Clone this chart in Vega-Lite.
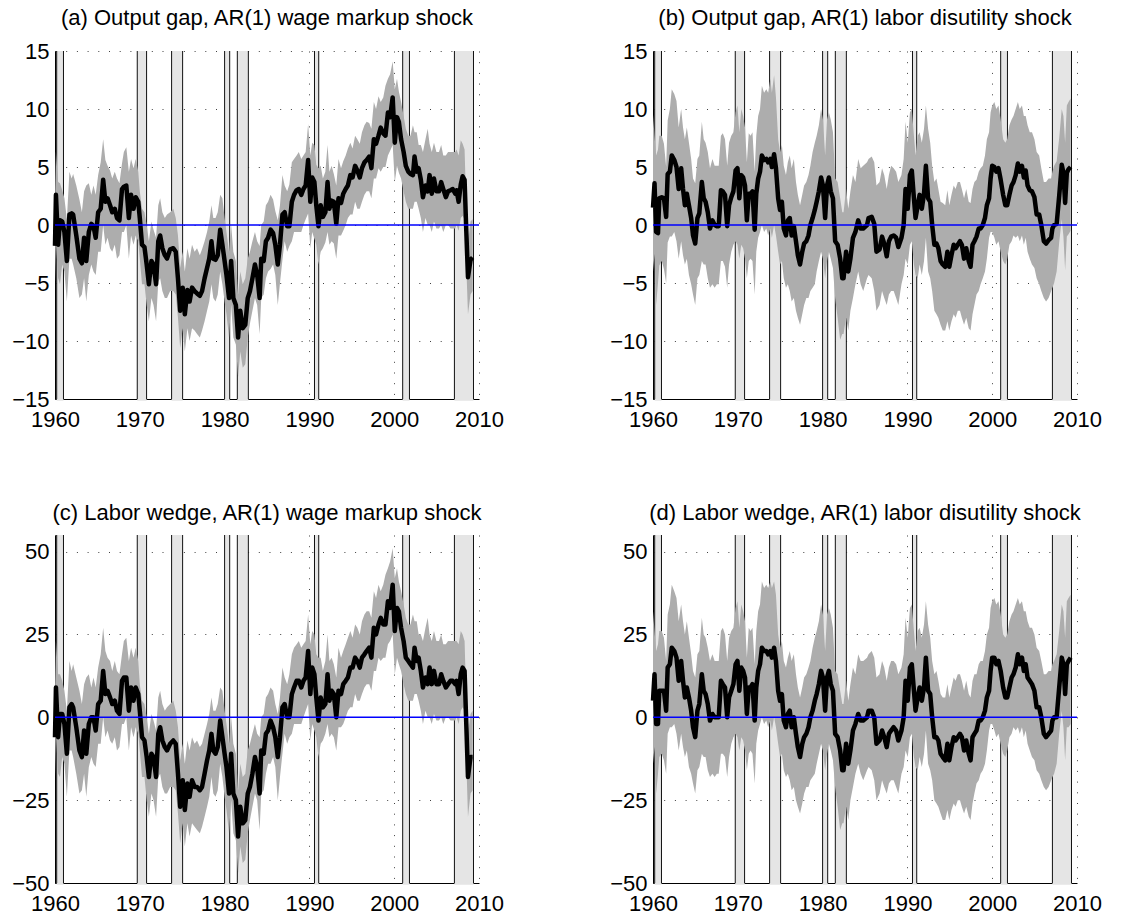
{
"$schema": "https://vega.github.io/schema/vega-lite/v6.json",
"background": "white",
"padding": {"left": 5, "top": 7, "right": 0, "bottom": 0},
"config": {
  "view": {"stroke": null},
  "font": "Liberation Sans",
  "axis": {"labelFont": "Liberation Sans", "labelFontSize": 22, "labelColor": "#000", "domainColor": "#000", "domainWidth": 1, "ticks": false, "tickSize": 0, "grid": true, "gridColor": "#000", "gridOpacity": 0.75, "gridDash": [1, 9.7], "gridWidth": 1, "labelFlush": false, "labelOverlap": false, "labelBound": false},
  "title": {"font": "Liberation Sans", "fontSize": 22, "fontWeight": "normal", "color": "#000", "offset": 10, "baseline": "alphabetic", "frame": "group", "anchor": "middle"}
},
"datasets": {
"R": [{"s":1960.2,"e":1961.0},{"s":1969.7,"e":1970.8},{"s":1973.75,"e":1975.05},{"s":1980.0,"e":1980.6},{"s":1981.5,"e":1982.8},{"s":1990.6,"e":1991.1},{"s":2001.0,"e":2001.8},{"s":2007.1,"e":2009.35}],
"A": [
{"t":1960.00,"m":-1.8,"l":-5.0,"h":2.0,"M":-6,"L":-18,"H":7},
{"t":1960.11,"m":2.6,"l":-1.5,"h":6.3,"M":9,"L":-5,"H":23},
{"t":1960.37,"m":-1.7,"l":-4.6,"h":3.7,"M":-6,"L":-17,"H":13},
{"t":1960.59,"m":0.4,"l":-5.1,"h":3.6,"M":1,"L":-18,"H":13},
{"t":1960.85,"m":0.3,"l":-3.4,"h":3.0,"M":1,"L":-12,"H":11},
{"t":1961.11,"m":-0.6,"l":-4.0,"h":2.3,"M":-2,"L":-14,"H":8},
{"t":1961.40,"m":-3.1,"l":-6.6,"h":0.5,"M":-11,"L":-24,"H":2},
{"t":1961.70,"m":0.9,"l":-2.9,"h":4.6,"M":3,"L":-10,"H":17},
{"t":1961.96,"m":1.0,"l":-2.9,"h":4.0,"M":4,"L":-10,"H":14},
{"t":1962.14,"m":0.9,"l":-3.4,"h":4.4,"M":3,"L":-12,"H":16},
{"t":1962.51,"m":-0.9,"l":-4.6,"h":3.4,"M":-3,"L":-17,"H":12},
{"t":1962.88,"m":-2.9,"l":-6.3,"h":2.2,"M":-10,"L":-23,"H":8},
{"t":1963.17,"m":-3.3,"l":-6.0,"h":1.1,"M":-12,"L":-22,"H":4},
{"t":1963.43,"m":-1.1,"l":-4.6,"h":2.9,"M":-4,"L":-17,"H":10},
{"t":1963.69,"m":-3.1,"l":-6.6,"h":3.4,"M":-11,"L":-24,"H":12},
{"t":1963.99,"m":-0.6,"l":-4.3,"h":3.6,"M":-2,"L":-15,"H":13},
{"t":1964.28,"m":0.1,"l":-3.4,"h":2.6,"M":0,"L":-12,"H":9},
{"t":1964.54,"m":-0.1,"l":-4.0,"h":3.4,"M":0,"L":-14,"H":12},
{"t":1964.80,"m":-1.1,"l":-4.3,"h":2.6,"M":-4,"L":-15,"H":9},
{"t":1965.09,"m":1.1,"l":-2.3,"h":4.3,"M":4,"L":-8,"H":15},
{"t":1965.39,"m":1.4,"l":-2.3,"h":5.4,"M":5,"L":-8,"H":19},
{"t":1965.68,"m":3.9,"l":0.0,"h":7.4,"M":14,"L":0,"H":27},
{"t":1965.94,"m":2.0,"l":-1.7,"h":5.6,"M":7,"L":-6,"H":20},
{"t":1966.20,"m":2.3,"l":-1.1,"h":5.1,"M":8,"L":-4,"H":18},
{"t":1966.49,"m":1.7,"l":-2.0,"h":4.7,"M":6,"L":-7,"H":17},
{"t":1966.75,"m":1.1,"l":-2.3,"h":4.0,"M":4,"L":-8,"H":14},
{"t":1967.05,"m":1.4,"l":-1.7,"h":4.6,"M":5,"L":-6,"H":17},
{"t":1967.31,"m":0.6,"l":-2.9,"h":4.0,"M":2,"L":-10,"H":14},
{"t":1967.60,"m":0.4,"l":-2.6,"h":3.6,"M":1,"L":-9,"H":13},
{"t":1967.90,"m":3.1,"l":-0.6,"h":5.3,"M":11,"L":-2,"H":19},
{"t":1968.12,"m":3.3,"l":-0.6,"h":6.3,"M":12,"L":-2,"H":23},
{"t":1968.41,"m":3.4,"l":0.0,"h":6.7,"M":12,"L":0,"H":24},
{"t":1968.71,"m":0.6,"l":-2.9,"h":4.6,"M":2,"L":-10,"H":17},
{"t":1968.97,"m":2.6,"l":-0.9,"h":5.7,"M":9,"L":-3,"H":21},
{"t":1969.26,"m":1.4,"l":-1.7,"h":4.9,"M":5,"L":-6,"H":18},
{"t":1969.52,"m":2.4,"l":-0.9,"h":5.7,"M":9,"L":-3,"H":21},
{"t":1969.82,"m":2.0,"l":-1.4,"h":4.6,"M":7,"L":-5,"H":17},
{"t":1970.00,"m":0.6,"l":-2.9,"h":2.9,"M":2,"L":-10,"H":10},
{"t":1970.26,"m":-1.7,"l":-5.1,"h":1.4,"M":-6,"L":-18,"H":5},
{"t":1970.55,"m":-1.9,"l":-5.1,"h":1.1,"M":-7,"L":-18,"H":4},
{"t":1970.81,"m":-3.4,"l":-6.9,"h":0.0,"M":-12,"L":-25,"H":0},
{"t":1971.07,"m":-5.1,"l":-8.3,"h":-1.4,"M":-18,"L":-30,"H":-5},
{"t":1971.37,"m":-3.1,"l":-6.3,"h":0.3,"M":-11,"L":-23,"H":1},
{"t":1971.62,"m":-3.4,"l":-6.9,"h":-0.4,"M":-12,"L":-25,"H":-1},
{"t":1971.92,"m":-5.1,"l":-8.3,"h":-1.1,"M":-18,"L":-30,"H":-4},
{"t":1972.18,"m":-1.4,"l":-4.9,"h":1.7,"M":-5,"L":-18,"H":6},
{"t":1972.40,"m":-0.9,"l":-4.6,"h":2.3,"M":-3,"L":-17,"H":8},
{"t":1972.66,"m":-2.0,"l":-5.7,"h":1.1,"M":-7,"L":-21,"H":4},
{"t":1972.95,"m":-2.6,"l":-6.3,"h":0.6,"M":-9,"L":-23,"H":2},
{"t":1973.21,"m":-2.9,"l":-6.3,"h":0.9,"M":-10,"L":-23,"H":3},
{"t":1973.58,"m":-2.1,"l":-5.7,"h":1.1,"M":-8,"L":-21,"H":4},
{"t":1973.95,"m":-2.0,"l":-5.7,"h":1.4,"M":-7,"L":-21,"H":5},
{"t":1974.24,"m":-2.3,"l":-6.0,"h":0.6,"M":-8,"L":-22,"H":2},
{"t":1974.50,"m":-4.6,"l":-8.0,"h":-0.9,"M":-17,"L":-29,"H":-3},
{"t":1974.76,"m":-7.4,"l":-10.6,"h":-3.7,"M":-27,"L":-38,"H":-13},
{"t":1975.06,"m":-5.4,"l":-8.9,"h":-2.3,"M":-19,"L":-32,"H":-8},
{"t":1975.31,"m":-7.7,"l":-10.9,"h":-4.0,"M":-28,"L":-39,"H":-14},
{"t":1975.61,"m":-5.6,"l":-8.9,"h":-2.0,"M":-20,"L":-32,"H":-7},
{"t":1975.87,"m":-6.6,"l":-10.0,"h":-2.9,"M":-24,"L":-36,"H":-10},
{"t":1976.16,"m":-5.4,"l":-8.9,"h":-1.7,"M":-19,"L":-32,"H":-6},
{"t":1976.46,"m":-5.7,"l":-9.1,"h":-2.3,"M":-21,"L":-33,"H":-8},
{"t":1976.75,"m":-5.9,"l":-9.4,"h":-2.0,"M":-21,"L":-34,"H":-7},
{"t":1977.08,"m":-6.1,"l":-9.7,"h":-2.6,"M":-22,"L":-35,"H":-9},
{"t":1977.34,"m":-5.7,"l":-9.1,"h":-2.1,"M":-21,"L":-33,"H":-8},
{"t":1977.64,"m":-4.6,"l":-8.3,"h":-1.4,"M":-17,"L":-30,"H":-5},
{"t":1977.93,"m":-3.7,"l":-7.4,"h":-0.6,"M":-13,"L":-27,"H":-2},
{"t":1978.19,"m":-2.9,"l":-6.6,"h":0.3,"M":-10,"L":-24,"H":1},
{"t":1978.45,"m":-1.4,"l":-5.1,"h":1.7,"M":-5,"L":-18,"H":6},
{"t":1978.67,"m":-2.9,"l":-6.3,"h":0.6,"M":-10,"L":-23,"H":2},
{"t":1978.93,"m":-3.0,"l":-6.6,"h":0.6,"M":-11,"L":-24,"H":2},
{"t":1979.19,"m":-2.6,"l":-6.0,"h":1.1,"M":-9,"L":-22,"H":4},
{"t":1979.48,"m":-0.4,"l":-4.0,"h":2.6,"M":-1,"L":-14,"H":9},
{"t":1979.74,"m":-1.7,"l":-5.1,"h":2.3,"M":-6,"L":-18,"H":8},
{"t":1980.00,"m":-3.1,"l":-6.6,"h":0.6,"M":-11,"L":-24,"H":2},
{"t":1980.22,"m":-4.3,"l":-7.7,"h":-0.6,"M":-15,"L":-28,"H":-2},
{"t":1980.52,"m":-6.3,"l":-9.7,"h":-2.3,"M":-23,"L":-35,"H":-8},
{"t":1980.77,"m":-3.1,"l":-6.9,"h":0.0,"M":-11,"L":-25,"H":0},
{"t":1981.03,"m":-6.3,"l":-9.7,"h":-2.3,"M":-23,"L":-35,"H":-8},
{"t":1981.33,"m":-6.9,"l":-10.3,"h":-3.1,"M":-25,"L":-37,"H":-11},
{"t":1981.59,"m":-9.7,"l":-13.1,"h":-6.0,"M":-36,"L":-47,"H":-22},
{"t":1981.85,"m":-7.4,"l":-10.9,"h":-4.0,"M":-27,"L":-39,"H":-14},
{"t":1982.14,"m":-8.9,"l":-12.3,"h":-5.1,"M":-32,"L":-44,"H":-18},
{"t":1982.44,"m":-8.6,"l":-12.0,"h":-4.6,"M":-31,"L":-43,"H":-17},
{"t":1982.73,"m":-6.3,"l":-9.7,"h":-2.9,"M":-23,"L":-35,"H":-10},
{"t":1982.99,"m":-5.7,"l":-8.5,"h":-2.3,"M":-21,"L":-31,"H":-8},
{"t":1983.28,"m":-4.6,"l":-7.4,"h":-1.4,"M":-17,"L":-27,"H":-5},
{"t":1983.58,"m":-3.4,"l":-6.3,"h":-0.6,"M":-12,"L":-23,"H":-2},
{"t":1983.84,"m":-4.3,"l":-6.9,"h":-1.4,"M":-15,"L":-25,"H":-5},
{"t":1984.13,"m":-6.3,"l":-9.4,"h":-1.8,"M":-23,"L":-34,"H":-6},
{"t":1984.32,"m":-2.9,"l":-6.3,"h":0.0,"M":-10,"L":-23,"H":0},
{"t":1984.61,"m":-3.1,"l":-6.0,"h":0.3,"M":-11,"L":-22,"H":1},
{"t":1984.87,"m":-1.4,"l":-4.6,"h":1.7,"M":-5,"L":-17,"H":6},
{"t":1985.13,"m":-1.1,"l":-4.0,"h":2.0,"M":-4,"L":-14,"H":7},
{"t":1985.42,"m":-0.4,"l":-3.8,"h":2.6,"M":-1,"L":-14,"H":9},
{"t":1985.72,"m":-0.7,"l":-3.4,"h":2.2,"M":-3,"L":-12,"H":8},
{"t":1985.98,"m":-1.7,"l":-4.3,"h":1.2,"M":-6,"L":-15,"H":4},
{"t":1986.27,"m":-3.4,"l":-6.9,"h":0.4,"M":-12,"L":-25,"H":1},
{"t":1986.53,"m":-1.7,"l":-5.0,"h":1.7,"M":-6,"L":-18,"H":6},
{"t":1986.82,"m":0.9,"l":-3.0,"h":4.3,"M":3,"L":-11,"H":15},
{"t":1987.08,"m":1.1,"l":-1.4,"h":3.4,"M":4,"L":-5,"H":12},
{"t":1987.38,"m":-0.1,"l":-2.3,"h":2.9,"M":0,"L":-8,"H":10},
{"t":1987.64,"m":-0.1,"l":-1.8,"h":3.5,"M":0,"L":-6,"H":13},
{"t":1987.93,"m":2.0,"l":-1.4,"h":5.4,"M":7,"L":-5,"H":19},
{"t":1988.19,"m":2.6,"l":-0.6,"h":5.7,"M":9,"L":-2,"H":21},
{"t":1988.49,"m":3.0,"l":-0.6,"h":6.0,"M":11,"L":-2,"H":22},
{"t":1988.75,"m":3.1,"l":-0.6,"h":6.3,"M":11,"L":-2,"H":23},
{"t":1989.04,"m":2.6,"l":-0.6,"h":5.7,"M":9,"L":-2,"H":21},
{"t":1989.30,"m":3.1,"l":0.0,"h":6.0,"M":11,"L":0,"H":22},
{"t":1989.56,"m":3.4,"l":0.5,"h":6.3,"M":12,"L":2,"H":23},
{"t":1989.85,"m":5.6,"l":1.0,"h":8.7,"M":20,"L":4,"H":31},
{"t":1990.11,"m":2.0,"l":-2.0,"h":6.0,"M":7,"L":-7,"H":22},
{"t":1990.33,"m":4.1,"l":-0.6,"h":7.1,"M":15,"L":-2,"H":26},
{"t":1990.59,"m":3.7,"l":-1.2,"h":6.9,"M":13,"L":-4,"H":25},
{"t":1990.81,"m":1.7,"l":-1.7,"h":5.2,"M":6,"L":-6,"H":19},
{"t":1991.07,"m":-0.1,"l":-3.4,"h":4.9,"M":-1,"L":-12,"H":18},
{"t":1991.33,"m":1.7,"l":-2.3,"h":5.1,"M":6,"L":-8,"H":18},
{"t":1991.59,"m":0.7,"l":-2.0,"h":4.0,"M":3,"L":-7,"H":14},
{"t":1991.88,"m":1.1,"l":-1.5,"h":4.6,"M":4,"L":-5,"H":17},
{"t":1992.14,"m":3.7,"l":-0.6,"h":6.9,"M":13,"L":-2,"H":25},
{"t":1992.36,"m":1.4,"l":-1.7,"h":4.6,"M":5,"L":-6,"H":17},
{"t":1992.62,"m":2.1,"l":-1.4,"h":5.1,"M":8,"L":-5,"H":18},
{"t":1992.88,"m":2.0,"l":-1.6,"h":4.4,"M":7,"L":-6,"H":16},
{"t":1993.17,"m":0.1,"l":-2.9,"h":3.4,"M":0,"L":-10,"H":12},
{"t":1993.43,"m":2.3,"l":-0.9,"h":5.7,"M":8,"L":-3,"H":21},
{"t":1993.73,"m":1.9,"l":-0.9,"h":4.9,"M":7,"L":-3,"H":18},
{"t":1993.99,"m":2.7,"l":-0.5,"h":5.5,"M":10,"L":-2,"H":20},
{"t":1994.28,"m":3.1,"l":0.0,"h":6.0,"M":11,"L":0,"H":22},
{"t":1994.54,"m":3.4,"l":0.6,"h":6.6,"M":12,"L":2,"H":24},
{"t":1994.83,"m":4.3,"l":0.9,"h":7.1,"M":15,"L":3,"H":26},
{"t":1995.09,"m":4.1,"l":0.9,"h":6.6,"M":15,"L":3,"H":24},
{"t":1995.39,"m":5.1,"l":2.0,"h":7.7,"M":18,"L":7,"H":28},
{"t":1995.65,"m":4.7,"l":1.4,"h":7.4,"M":17,"L":5,"H":27},
{"t":1995.94,"m":4.1,"l":1.4,"h":7.0,"M":15,"L":5,"H":25},
{"t":1996.20,"m":4.9,"l":2.0,"h":8.0,"M":18,"L":7,"H":29},
{"t":1996.49,"m":5.4,"l":2.6,"h":8.6,"M":19,"L":9,"H":31},
{"t":1996.75,"m":5.6,"l":2.9,"h":8.9,"M":20,"L":10,"H":32},
{"t":1997.05,"m":5.9,"l":2.9,"h":8.8,"M":21,"L":10,"H":32},
{"t":1997.31,"m":4.9,"l":2.3,"h":8.3,"M":18,"L":8,"H":30},
{"t":1997.60,"m":7.4,"l":4.0,"h":10.6,"M":27,"L":14,"H":38},
{"t":1997.86,"m":7.0,"l":4.0,"h":10.0,"M":25,"L":14,"H":36},
{"t":1998.15,"m":7.7,"l":4.9,"h":11.1,"M":28,"L":18,"H":40},
{"t":1998.41,"m":8.4,"l":4.6,"h":10.6,"M":30,"L":17,"H":38},
{"t":1998.71,"m":7.9,"l":5.0,"h":11.0,"M":28,"L":18,"H":40},
{"t":1998.97,"m":7.7,"l":5.0,"h":12.0,"M":28,"L":18,"H":43},
{"t":1999.26,"m":9.7,"l":6.0,"h":12.6,"M":35,"L":22,"H":45},
{"t":1999.52,"m":9.3,"l":6.4,"h":13.0,"M":33,"L":23,"H":47},
{"t":1999.82,"m":11.0,"l":6.9,"h":14.1,"M":40,"L":25,"H":51},
{"t":2000.07,"m":7.1,"l":3.7,"h":11.7,"M":26,"L":13,"H":42},
{"t":2000.33,"m":9.3,"l":5.1,"h":12.6,"M":33,"L":18,"H":45},
{"t":2000.55,"m":8.9,"l":4.5,"h":11.5,"M":32,"L":16,"H":41},
{"t":2000.81,"m":7.4,"l":4.0,"h":10.6,"M":27,"L":14,"H":38},
{"t":2001.11,"m":6.3,"l":2.9,"h":9.4,"M":23,"L":10,"H":34},
{"t":2001.37,"m":5.1,"l":2.0,"h":8.3,"M":18,"L":7,"H":30},
{"t":2001.66,"m":4.6,"l":1.4,"h":7.7,"M":17,"L":5,"H":28},
{"t":2001.92,"m":4.4,"l":1.4,"h":7.7,"M":16,"L":5,"H":28},
{"t":2002.21,"m":4.3,"l":1.4,"h":8.6,"M":15,"L":5,"H":31},
{"t":2002.40,"m":5.9,"l":2.0,"h":8.0,"M":21,"L":7,"H":29},
{"t":2002.66,"m":4.6,"l":2.0,"h":8.0,"M":17,"L":7,"H":29},
{"t":2002.88,"m":4.9,"l":1.4,"h":6.9,"M":18,"L":5,"H":25},
{"t":2003.14,"m":3.9,"l":0.6,"h":6.9,"M":14,"L":2,"H":25},
{"t":2003.39,"m":2.4,"l":-0.6,"h":6.3,"M":9,"L":-2,"H":23},
{"t":2003.69,"m":3.4,"l":0.6,"h":7.4,"M":12,"L":2,"H":27},
{"t":2003.95,"m":2.9,"l":0.0,"h":8.3,"M":10,"L":0,"H":30},
{"t":2004.17,"m":4.3,"l":0.0,"h":7.0,"M":15,"L":0,"H":25},
{"t":2004.43,"m":2.7,"l":-0.6,"h":6.3,"M":10,"L":-2,"H":23},
{"t":2004.69,"m":4.0,"l":0.3,"h":7.1,"M":14,"L":1,"H":26},
{"t":2004.98,"m":2.9,"l":-0.3,"h":6.3,"M":10,"L":-1,"H":23},
{"t":2005.28,"m":2.9,"l":-0.3,"h":6.3,"M":10,"L":-1,"H":23},
{"t":2005.54,"m":3.7,"l":0.0,"h":6.9,"M":13,"L":0,"H":25},
{"t":2005.79,"m":3.1,"l":-0.6,"h":6.0,"M":11,"L":-2,"H":22},
{"t":2006.09,"m":2.4,"l":0.0,"h":6.0,"M":9,"L":0,"H":22},
{"t":2006.35,"m":2.9,"l":0.0,"h":6.3,"M":10,"L":0,"H":23},
{"t":2006.64,"m":3.0,"l":-0.3,"h":6.3,"M":11,"L":-1,"H":23},
{"t":2006.90,"m":3.1,"l":-0.3,"h":6.3,"M":11,"L":-1,"H":23},
{"t":2007.20,"m":2.7,"l":-0.3,"h":6.3,"M":10,"L":-1,"H":23},
{"t":2007.35,"m":3.0,"l":0.0,"h":6.5,"M":11,"L":0,"H":23},
{"t":2007.60,"m":2.0,"l":-0.5,"h":6.0,"M":7,"L":-2,"H":22},
{"t":2007.85,"m":3.5,"l":0.6,"h":7.3,"M":13,"L":2,"H":26},
{"t":2008.07,"m":4.2,"l":0.8,"h":7.0,"M":15,"L":3,"H":25},
{"t":2008.30,"m":3.9,"l":0.5,"h":6.5,"M":14,"L":2,"H":23},
{"t":2008.50,"m":-0.5,"l":-3.5,"h":1.5,"M":-2,"L":-13,"H":5},
{"t":2008.70,"m":-4.5,"l":-7.7,"h":-1.5,"M":-18,"L":-30,"H":-5},
{"t":2009.00,"m":-3.0,"l":-6.0,"h":0.3,"M":-12,"L":-23,"H":1},
{"t":2009.25,"m":-2.8,"l":-5.7,"h":0.5,"M":-12,"L":-22,"H":2}
],
"B": [
{"t":1960.00,"m":1.5,"l":-4.0,"h":9.5,"M":5,"L":-14,"H":32},
{"t":1960.18,"m":3.6,"l":-2.5,"h":7.7,"M":13,"L":-9,"H":26},
{"t":1960.37,"m":-0.6,"l":-6.9,"h":6.0,"M":-2,"L":-23,"H":20},
{"t":1960.59,"m":-0.7,"l":-5.0,"h":6.5,"M":-2,"L":-17,"H":22},
{"t":1960.74,"m":2.3,"l":-3.5,"h":7.7,"M":8,"L":-12,"H":26},
{"t":1961.03,"m":2.4,"l":-3.1,"h":7.7,"M":8,"L":-11,"H":26},
{"t":1961.29,"m":2.3,"l":-3.8,"h":7.0,"M":8,"L":-13,"H":24},
{"t":1961.55,"m":0.7,"l":-5.0,"h":5.0,"M":2,"L":-17,"H":17},
{"t":1961.73,"m":4.4,"l":-1.5,"h":9.0,"M":15,"L":-5,"H":31},
{"t":1961.99,"m":4.6,"l":-1.0,"h":10.0,"M":16,"L":-3,"H":34},
{"t":1962.21,"m":6.0,"l":-1.0,"h":11.7,"M":21,"L":-3,"H":40},
{"t":1962.51,"m":5.6,"l":-0.6,"h":11.3,"M":20,"L":-2,"H":38},
{"t":1962.77,"m":5.0,"l":-1.4,"h":10.7,"M":18,"L":-5,"H":36},
{"t":1963.03,"m":3.1,"l":-2.9,"h":8.4,"M":11,"L":-10,"H":29},
{"t":1963.32,"m":4.9,"l":-1.4,"h":10.0,"M":17,"L":-5,"H":34},
{"t":1963.54,"m":3.1,"l":-2.6,"h":8.4,"M":11,"L":-9,"H":29},
{"t":1963.76,"m":1.7,"l":-3.4,"h":7.4,"M":6,"L":-12,"H":25},
{"t":1963.99,"m":2.7,"l":-2.9,"h":8.4,"M":9,"L":-10,"H":29},
{"t":1964.24,"m":1.7,"l":-4.3,"h":7.1,"M":6,"L":-15,"H":24},
{"t":1964.50,"m":0.6,"l":-5.1,"h":5.7,"M":2,"L":-17,"H":19},
{"t":1964.72,"m":-0.9,"l":-6.0,"h":4.0,"M":-3,"L":-20,"H":14},
{"t":1964.98,"m":-1.6,"l":-6.9,"h":3.6,"M":-6,"L":-23,"H":12},
{"t":1965.24,"m":0.6,"l":-4.6,"h":5.7,"M":2,"L":-16,"H":19},
{"t":1965.46,"m":1.0,"l":-4.3,"h":6.0,"M":4,"L":-15,"H":20},
{"t":1965.76,"m":3.7,"l":-3.1,"h":8.9,"M":13,"L":-11,"H":30},
{"t":1965.98,"m":2.3,"l":-3.4,"h":7.4,"M":8,"L":-12,"H":25},
{"t":1966.20,"m":2.0,"l":-3.4,"h":7.1,"M":7,"L":-12,"H":24},
{"t":1966.46,"m":1.1,"l":-4.6,"h":6.3,"M":4,"L":-16,"H":21},
{"t":1966.72,"m":-0.3,"l":-5.4,"h":4.9,"M":-1,"L":-18,"H":17},
{"t":1967.01,"m":0.4,"l":-5.1,"h":5.7,"M":1,"L":-17,"H":19},
{"t":1967.27,"m":0.0,"l":-5.4,"h":5.1,"M":0,"L":-18,"H":17},
{"t":1967.53,"m":-0.1,"l":-5.1,"h":5.1,"M":0,"L":-17,"H":17},
{"t":1967.75,"m":-0.1,"l":-5.1,"h":5.1,"M":0,"L":-17,"H":17},
{"t":1968.01,"m":3.0,"l":-3.1,"h":7.7,"M":11,"L":-11,"H":26},
{"t":1968.23,"m":2.9,"l":-3.1,"h":7.9,"M":10,"L":-11,"H":27},
{"t":1968.49,"m":2.6,"l":-3.6,"h":7.4,"M":9,"L":-12,"H":25},
{"t":1968.75,"m":-0.1,"l":-5.4,"h":5.1,"M":0,"L":-18,"H":17},
{"t":1968.97,"m":1.7,"l":-3.4,"h":7.1,"M":6,"L":-12,"H":24},
{"t":1969.23,"m":2.4,"l":-2.3,"h":7.7,"M":8,"L":-8,"H":26},
{"t":1969.48,"m":2.9,"l":-1.7,"h":8.0,"M":10,"L":-6,"H":27},
{"t":1969.74,"m":4.7,"l":-1.4,"h":9.7,"M":16,"L":-5,"H":33},
{"t":1969.96,"m":4.9,"l":-1.7,"h":10.3,"M":17,"L":-6,"H":35},
{"t":1970.18,"m":2.3,"l":-2.9,"h":8.0,"M":8,"L":-10,"H":27},
{"t":1970.41,"m":4.3,"l":-1.7,"h":10.0,"M":15,"L":-6,"H":34},
{"t":1970.63,"m":4.1,"l":-2.0,"h":9.4,"M":14,"L":-7,"H":32},
{"t":1970.85,"m":3.4,"l":-2.9,"h":8.4,"M":12,"L":-10,"H":29},
{"t":1971.07,"m":0.4,"l":-4.6,"h":5.4,"M":1,"L":-16,"H":18},
{"t":1971.29,"m":2.7,"l":-3.1,"h":7.9,"M":9,"L":-11,"H":27},
{"t":1971.51,"m":2.7,"l":-2.9,"h":7.7,"M":9,"L":-10,"H":26},
{"t":1971.73,"m":2.9,"l":-3.1,"h":8.0,"M":10,"L":-11,"H":27},
{"t":1971.99,"m":-0.4,"l":-6.0,"h":4.6,"M":-1,"L":-20,"H":16},
{"t":1972.18,"m":2.7,"l":-2.3,"h":7.7,"M":9,"L":-8,"H":26},
{"t":1972.40,"m":4.0,"l":-1.1,"h":9.4,"M":14,"L":-4,"H":32},
{"t":1972.62,"m":4.6,"l":-0.6,"h":10.0,"M":16,"L":-2,"H":34},
{"t":1972.84,"m":6.0,"l":0.0,"h":12.0,"M":21,"L":0,"H":41},
{"t":1973.10,"m":5.6,"l":-0.6,"h":11.4,"M":20,"L":-2,"H":39},
{"t":1973.36,"m":5.7,"l":-0.3,"h":11.7,"M":20,"L":-1,"H":40},
{"t":1973.58,"m":5.4,"l":-0.9,"h":11.4,"M":19,"L":-3,"H":39},
{"t":1973.84,"m":5.7,"l":-0.3,"h":12.6,"M":20,"L":-1,"H":41},
{"t":1974.02,"m":5.0,"l":-1.1,"h":11.4,"M":18,"L":-4,"H":39},
{"t":1974.28,"m":6.1,"l":0.0,"h":12.9,"M":21,"L":0,"H":41},
{"t":1974.50,"m":4.9,"l":-0.9,"h":11.0,"M":17,"L":-3,"H":37},
{"t":1974.76,"m":2.3,"l":-2.3,"h":7.4,"M":8,"L":-8,"H":25},
{"t":1974.98,"m":1.3,"l":-3.4,"h":6.3,"M":5,"L":-12,"H":21},
{"t":1975.20,"m":2.0,"l":-3.1,"h":6.9,"M":7,"L":-11,"H":23},
{"t":1975.42,"m":-0.3,"l":-4.6,"h":5.1,"M":-1,"L":-16,"H":17},
{"t":1975.68,"m":-0.9,"l":-5.4,"h":4.3,"M":-3,"L":-18,"H":15},
{"t":1975.90,"m":0.4,"l":-5.1,"h":5.4,"M":1,"L":-17,"H":18},
{"t":1976.13,"m":0.6,"l":-5.7,"h":6.0,"M":2,"L":-19,"H":20},
{"t":1976.35,"m":-0.9,"l":-6.6,"h":4.9,"M":-3,"L":-22,"H":17},
{"t":1976.61,"m":-0.1,"l":-6.3,"h":5.7,"M":0,"L":-21,"H":19},
{"t":1976.86,"m":-1.4,"l":-7.4,"h":3.7,"M":-5,"L":-25,"H":13},
{"t":1977.08,"m":-2.6,"l":-8.0,"h":2.6,"M":-9,"L":-27,"H":9},
{"t":1977.34,"m":-3.4,"l":-8.6,"h":1.7,"M":-12,"L":-29,"H":6},
{"t":1977.60,"m":-2.3,"l":-7.7,"h":2.6,"M":-8,"L":-26,"H":9},
{"t":1977.82,"m":-1.6,"l":-6.9,"h":3.4,"M":-6,"L":-23,"H":12},
{"t":1978.08,"m":-1.4,"l":-6.3,"h":3.7,"M":-5,"L":-21,"H":13},
{"t":1978.34,"m":-0.9,"l":-6.3,"h":4.3,"M":-3,"L":-21,"H":15},
{"t":1978.56,"m":0.0,"l":-5.7,"h":5.1,"M":0,"L":-19,"H":17},
{"t":1978.82,"m":0.6,"l":-5.4,"h":6.3,"M":2,"L":-18,"H":21},
{"t":1979.08,"m":1.3,"l":-5.1,"h":7.1,"M":5,"L":-17,"H":24},
{"t":1979.30,"m":2.0,"l":-4.0,"h":7.7,"M":7,"L":-14,"H":26},
{"t":1979.56,"m":2.9,"l":-3.1,"h":8.6,"M":10,"L":-11,"H":29},
{"t":1979.82,"m":4.1,"l":-2.3,"h":10.0,"M":14,"L":-8,"H":34},
{"t":1980.04,"m":3.4,"l":-2.9,"h":9.1,"M":12,"L":-10,"H":31},
{"t":1980.30,"m":0.6,"l":-4.6,"h":6.0,"M":2,"L":-16,"H":20},
{"t":1980.52,"m":3.4,"l":-3.1,"h":9.1,"M":12,"L":-11,"H":31},
{"t":1980.74,"m":4.1,"l":-2.3,"h":9.7,"M":14,"L":-8,"H":33},
{"t":1980.96,"m":2.9,"l":-2.9,"h":9.1,"M":10,"L":-10,"H":31},
{"t":1981.22,"m":2.3,"l":-3.7,"h":8.0,"M":8,"L":-13,"H":27},
{"t":1981.48,"m":-1.4,"l":-6.3,"h":4.0,"M":-5,"L":-21,"H":14},
{"t":1981.77,"m":-1.7,"l":-8.0,"h":3.7,"M":-6,"L":-27,"H":13},
{"t":1982.07,"m":-2.9,"l":-9.9,"h":2.3,"M":-10,"L":-34,"H":8},
{"t":1982.32,"m":-4.6,"l":-9.4,"h":1.1,"M":-16,"L":-32,"H":4},
{"t":1982.47,"m":-4.6,"l":-9.4,"h":1.1,"M":-16,"L":-32,"H":4},
{"t":1982.77,"m":-2.3,"l":-8.0,"h":3.1,"M":-8,"L":-27,"H":11},
{"t":1983.03,"m":-4.0,"l":-9.1,"h":1.4,"M":-14,"L":-31,"H":5},
{"t":1983.28,"m":-2.9,"l":-7.4,"h":2.9,"M":-10,"L":-25,"H":10},
{"t":1983.58,"m":-1.1,"l":-6.3,"h":4.3,"M":-4,"L":-21,"H":15},
{"t":1983.87,"m":-0.6,"l":-5.1,"h":3.7,"M":-2,"L":-17,"H":13},
{"t":1984.20,"m":0.4,"l":-4.0,"h":5.7,"M":1,"L":-14,"H":19},
{"t":1984.49,"m":-0.3,"l":-5.1,"h":4.9,"M":-1,"L":-17,"H":17},
{"t":1984.79,"m":-0.3,"l":-5.7,"h":5.1,"M":-1,"L":-19,"H":17},
{"t":1985.24,"m":0.0,"l":-4.6,"h":5.4,"M":0,"L":-16,"H":18},
{"t":1985.42,"m":0.6,"l":-4.3,"h":5.7,"M":2,"L":-15,"H":19},
{"t":1985.79,"m":0.7,"l":-4.6,"h":5.9,"M":2,"L":-16,"H":20},
{"t":1986.09,"m":0.1,"l":-5.7,"h":5.4,"M":0,"L":-19,"H":18},
{"t":1986.35,"m":-2.3,"l":-7.4,"h":3.4,"M":-8,"L":-25,"H":12},
{"t":1986.72,"m":-2.1,"l":-6.9,"h":3.7,"M":-7,"L":-23,"H":13},
{"t":1987.01,"m":-1.0,"l":-5.7,"h":4.9,"M":-4,"L":-19,"H":17},
{"t":1987.27,"m":-1.6,"l":-6.3,"h":4.3,"M":-6,"L":-21,"H":15},
{"t":1987.56,"m":-2.7,"l":-6.9,"h":3.1,"M":-9,"L":-23,"H":11},
{"t":1987.82,"m":-1.4,"l":-6.0,"h":4.3,"M":-5,"L":-20,"H":15},
{"t":1988.08,"m":-1.0,"l":-5.7,"h":5.1,"M":-4,"L":-19,"H":17},
{"t":1988.38,"m":-0.9,"l":-5.7,"h":4.9,"M":-3,"L":-19,"H":17},
{"t":1988.67,"m":-1.1,"l":-6.3,"h":4.6,"M":-4,"L":-21,"H":16},
{"t":1988.93,"m":-1.9,"l":-6.9,"h":3.7,"M":-7,"L":-23,"H":13},
{"t":1989.30,"m":-1.1,"l":-5.1,"h":4.3,"M":-4,"L":-17,"H":15},
{"t":1989.56,"m":0.0,"l":-4.3,"h":5.7,"M":0,"L":-15,"H":19},
{"t":1989.78,"m":3.1,"l":-2.9,"h":8.9,"M":11,"L":-10,"H":30},
{"t":1990.04,"m":1.4,"l":-3.4,"h":7.1,"M":5,"L":-12,"H":24},
{"t":1990.30,"m":4.3,"l":-1.7,"h":9.7,"M":15,"L":-6,"H":33},
{"t":1990.52,"m":4.7,"l":-1.4,"h":10.0,"M":16,"L":-5,"H":34},
{"t":1990.77,"m":2.3,"l":-3.4,"h":7.7,"M":8,"L":-12,"H":26},
{"t":1990.96,"m":0.6,"l":-4.3,"h":6.0,"M":2,"L":-15,"H":20},
{"t":1991.22,"m":1.7,"l":-4.6,"h":7.7,"M":6,"L":-16,"H":26},
{"t":1991.44,"m":2.6,"l":-3.4,"h":8.0,"M":9,"L":-12,"H":27},
{"t":1991.70,"m":1.4,"l":-4.3,"h":7.1,"M":5,"L":-15,"H":24},
{"t":1991.96,"m":2.7,"l":-3.1,"h":8.3,"M":9,"L":-11,"H":28},
{"t":1992.18,"m":5.1,"l":-1.1,"h":10.3,"M":18,"L":-4,"H":35},
{"t":1992.44,"m":2.3,"l":-4.0,"h":8.3,"M":8,"L":-14,"H":28},
{"t":1992.69,"m":2.0,"l":-4.6,"h":7.1,"M":7,"L":-16,"H":24},
{"t":1992.92,"m":0.0,"l":-5.7,"h":5.1,"M":0,"L":-19,"H":17},
{"t":1993.18,"m":-1.7,"l":-7.4,"h":3.7,"M":-6,"L":-25,"H":13},
{"t":1993.43,"m":-1.6,"l":-7.7,"h":4.0,"M":-6,"L":-26,"H":14},
{"t":1993.65,"m":-2.0,"l":-8.0,"h":3.1,"M":-7,"L":-27,"H":11},
{"t":1993.91,"m":-3.1,"l":-8.6,"h":2.0,"M":-11,"L":-29,"H":7},
{"t":1994.17,"m":-3.4,"l":-9.1,"h":1.9,"M":-12,"L":-31,"H":6},
{"t":1994.46,"m":-3.6,"l":-9.1,"h":1.7,"M":-13,"L":-31,"H":6},
{"t":1994.72,"m":-2.3,"l":-8.3,"h":3.0,"M":-8,"L":-28,"H":10},
{"t":1994.94,"m":-3.6,"l":-9.1,"h":1.7,"M":-13,"L":-31,"H":6},
{"t":1995.20,"m":-2.6,"l":-8.3,"h":2.6,"M":-9,"L":-28,"H":9},
{"t":1995.46,"m":-1.7,"l":-7.7,"h":3.4,"M":-6,"L":-26,"H":12},
{"t":1995.68,"m":-2.0,"l":-8.0,"h":3.1,"M":-7,"L":-27,"H":11},
{"t":1995.94,"m":-1.7,"l":-7.4,"h":3.7,"M":-6,"L":-25,"H":13},
{"t":1996.20,"m":-1.4,"l":-7.4,"h":3.7,"M":-5,"L":-25,"H":13},
{"t":1996.42,"m":-1.7,"l":-8.0,"h":3.1,"M":-6,"L":-27,"H":11},
{"t":1996.68,"m":-2.9,"l":-8.6,"h":2.3,"M":-10,"L":-29,"H":8},
{"t":1996.94,"m":-2.0,"l":-8.0,"h":3.1,"M":-7,"L":-27,"H":11},
{"t":1997.23,"m":-3.1,"l":-8.9,"h":2.0,"M":-11,"L":-30,"H":7},
{"t":1997.45,"m":-3.6,"l":-9.1,"h":1.9,"M":-13,"L":-31,"H":6},
{"t":1997.68,"m":-1.7,"l":-7.7,"h":3.1,"M":-6,"L":-26,"H":11},
{"t":1997.90,"m":-1.4,"l":-6.9,"h":3.7,"M":-5,"L":-23,"H":13},
{"t":1998.15,"m":-1.0,"l":-6.0,"h":3.9,"M":-4,"L":-20,"H":13},
{"t":1998.41,"m":-0.3,"l":-5.7,"h":4.6,"M":-1,"L":-19,"H":16},
{"t":1998.63,"m":-0.3,"l":-5.1,"h":4.9,"M":-1,"L":-17,"H":17},
{"t":1998.89,"m":0.0,"l":-4.6,"h":5.1,"M":0,"L":-16,"H":17},
{"t":1999.15,"m":0.6,"l":-4.0,"h":6.0,"M":2,"L":-14,"H":20},
{"t":1999.37,"m":1.7,"l":-2.9,"h":7.4,"M":6,"L":-10,"H":25},
{"t":1999.63,"m":2.3,"l":-1.1,"h":8.0,"M":8,"L":-4,"H":27},
{"t":1999.81,"m":4.0,"l":-0.6,"h":9.7,"M":14,"L":-2,"H":33},
{"t":2000.00,"m":5.1,"l":-0.6,"h":10.3,"M":18,"L":-2,"H":35},
{"t":2000.26,"m":5.0,"l":-1.1,"h":10.6,"M":18,"L":-4,"H":36},
{"t":2000.48,"m":4.6,"l":-1.7,"h":10.0,"M":16,"L":-6,"H":34},
{"t":2000.74,"m":4.9,"l":-1.4,"h":10.3,"M":17,"L":-5,"H":35},
{"t":2001.00,"m":3.9,"l":-2.3,"h":9.1,"M":14,"L":-8,"H":31},
{"t":2001.29,"m":2.6,"l":-3.1,"h":7.4,"M":9,"L":-11,"H":25},
{"t":2001.55,"m":1.7,"l":-3.4,"h":7.1,"M":6,"L":-12,"H":24},
{"t":2001.77,"m":1.7,"l":-2.9,"h":7.4,"M":6,"L":-10,"H":25},
{"t":2002.03,"m":2.6,"l":-1.7,"h":8.6,"M":9,"L":-6,"H":29},
{"t":2002.29,"m":3.4,"l":-1.4,"h":9.1,"M":12,"L":-5,"H":31},
{"t":2002.51,"m":3.7,"l":-0.9,"h":9.4,"M":13,"L":-3,"H":32},
{"t":2002.77,"m":4.3,"l":-1.1,"h":10.0,"M":15,"L":-4,"H":34},
{"t":2003.03,"m":5.3,"l":-0.9,"h":10.6,"M":19,"L":-3,"H":36},
{"t":2003.25,"m":4.6,"l":-1.4,"h":10.0,"M":16,"L":-5,"H":34},
{"t":2003.51,"m":5.1,"l":-0.9,"h":10.3,"M":18,"L":-3,"H":35},
{"t":2003.73,"m":4.1,"l":-1.7,"h":9.4,"M":14,"L":-6,"H":32},
{"t":2003.95,"m":4.7,"l":-1.1,"h":9.4,"M":16,"L":-4,"H":32},
{"t":2004.17,"m":3.4,"l":-2.3,"h":8.6,"M":12,"L":-8,"H":29},
{"t":2004.43,"m":3.0,"l":-2.9,"h":8.0,"M":11,"L":-10,"H":27},
{"t":2004.69,"m":2.9,"l":-3.4,"h":8.0,"M":10,"L":-12,"H":27},
{"t":2004.98,"m":2.4,"l":-3.7,"h":7.4,"M":8,"L":-13,"H":25},
{"t":2005.24,"m":0.9,"l":-4.6,"h":6.3,"M":3,"L":-16,"H":21},
{"t":2005.54,"m":0.9,"l":-5.1,"h":6.0,"M":3,"L":-17,"H":20},
{"t":2005.79,"m":0.0,"l":-5.7,"h":4.9,"M":0,"L":-19,"H":17},
{"t":2006.09,"m":-1.4,"l":-6.3,"h":3.7,"M":-5,"L":-21,"H":13},
{"t":2006.35,"m":-1.6,"l":-6.6,"h":3.7,"M":-6,"L":-22,"H":13},
{"t":2006.65,"m":-1.3,"l":-6.3,"h":4.0,"M":-5,"L":-21,"H":14},
{"t":2006.95,"m":-1.1,"l":-5.7,"h":4.0,"M":-4,"L":-19,"H":14},
{"t":2007.10,"m":-0.3,"l":-5.4,"h":4.6,"M":-1,"L":-18,"H":16},
{"t":2007.30,"m":0.0,"l":-5.0,"h":5.1,"M":0,"L":-17,"H":17},
{"t":2007.60,"m":0.1,"l":-4.0,"h":5.5,"M":0,"L":-14,"H":19},
{"t":2007.90,"m":2.5,"l":-1.5,"h":7.5,"M":9,"L":-5,"H":26},
{"t":2008.20,"m":5.2,"l":0.5,"h":10.0,"M":18,"L":2,"H":34},
{"t":2008.40,"m":4.5,"l":-1.0,"h":9.4,"M":16,"L":-3,"H":32},
{"t":2008.60,"m":1.9,"l":-3.9,"h":7.1,"M":7,"L":-13,"H":24},
{"t":2008.80,"m":4.5,"l":-1.0,"h":10.3,"M":16,"L":-3,"H":35},
{"t":2009.00,"m":4.8,"l":-0.8,"h":10.6,"M":17,"L":-3,"H":36},
{"t":2009.25,"m":5.0,"l":-0.5,"h":10.9,"M":18,"L":-2,"H":37}
]
},
"columns": 2,
"bounds": "flush",
"spacing": {"row": 136, "column": 174},
"concat": [
{
 "width": 424, "height": 348,
 "title": {"text": "(a) Output gap, AR(1) wage markup shock"},
 "layer": [
  {"data": {"name": "R"}, "mark": {"type": "rect", "color": "#e5e5e5"},
   "encoding": {
    "x": {"field": "s", "type": "quantitative", "title": null, "scale": {"domain": [1960, 2010], "nice": false, "zero": false}, "axis": {"values": [1960, 1970, 1980, 1990, 2000, 2010], "format": "d", "labelPadding": 10.5}},
    "x2": {"field": "e"},
    "y": {"datum": 15, "type": "quantitative", "title": null, "scale": {"domain": [-15, 15], "nice": false, "zero": false}, "axis": {"values": [-15, -10, -5, 0, 5, 10, 15], "labelPadding": 6, "minExtent": 50, "maxExtent": 50}},
    "y2": {"datum": -15.15}
   }},
  {"data": {"name": "R"}, "mark": {"type": "rule", "color": "#111", "strokeWidth": 1}, "encoding": {"x": {"field": "s", "type": "quantitative", "title": null}}},
  {"data": {"name": "R"}, "mark": {"type": "rule", "color": "#111", "strokeWidth": 1}, "encoding": {"x": {"field": "e", "type": "quantitative", "title": null}}},
  {"data": {"name": "A"}, "mark": {"type": "area", "color": "#adadad", "opacity": 1}, "encoding": {"x": {"field": "t", "type": "quantitative", "title": null}, "y": {"field": "l", "type": "quantitative", "title": null}, "y2": {"field": "h"}}},
  {"data": {"name": "A"}, "mark": {"type": "line", "color": "#000", "strokeWidth": 4.5, "strokeJoin": "round"}, "encoding": {"x": {"field": "t", "type": "quantitative", "title": null}, "y": {"field": "m", "type": "quantitative", "title": null}}},
  {"data": {"values": [{}]}, "mark": {"type": "rule", "color": "#0000ff", "strokeWidth": 1.5}, "encoding": {"y": {"datum": 0, "type": "quantitative"}}}
 ]
},
{
 "width": 424, "height": 348,
 "title": {"text": "(b) Output gap, AR(1) labor disutility shock"},
 "layer": [
  {"data": {"name": "R"}, "mark": {"type": "rect", "color": "#e5e5e5"},
   "encoding": {
    "x": {"field": "s", "type": "quantitative", "title": null, "scale": {"domain": [1960, 2010], "nice": false, "zero": false}, "axis": {"values": [1960, 1970, 1980, 1990, 2000, 2010], "format": "d", "labelPadding": 10.5}},
    "x2": {"field": "e"},
    "y": {"datum": 15, "type": "quantitative", "title": null, "scale": {"domain": [-15, 15], "nice": false, "zero": false}, "axis": {"values": [-15, -10, -5, 0, 5, 10, 15], "labelPadding": 6, "minExtent": 50, "maxExtent": 50}},
    "y2": {"datum": -15.15}
   }},
  {"data": {"name": "R"}, "mark": {"type": "rule", "color": "#111", "strokeWidth": 1}, "encoding": {"x": {"field": "s", "type": "quantitative", "title": null}}},
  {"data": {"name": "R"}, "mark": {"type": "rule", "color": "#111", "strokeWidth": 1}, "encoding": {"x": {"field": "e", "type": "quantitative", "title": null}}},
  {"data": {"name": "B"}, "mark": {"type": "area", "color": "#adadad", "opacity": 1}, "encoding": {"x": {"field": "t", "type": "quantitative", "title": null}, "y": {"field": "l", "type": "quantitative", "title": null}, "y2": {"field": "h"}}},
  {"data": {"name": "B"}, "mark": {"type": "line", "color": "#000", "strokeWidth": 4.5, "strokeJoin": "round"}, "encoding": {"x": {"field": "t", "type": "quantitative", "title": null}, "y": {"field": "m", "type": "quantitative", "title": null}}},
  {"data": {"values": [{}]}, "mark": {"type": "rule", "color": "#0000ff", "strokeWidth": 1.5}, "encoding": {"y": {"datum": 0, "type": "quantitative"}}}
 ]
},
{
 "width": 424, "height": 348,
 "title": {"text": "(c) Labor wedge, AR(1) wage markup shock"},
 "layer": [
  {"data": {"name": "R"}, "mark": {"type": "rect", "color": "#e5e5e5"},
   "encoding": {
    "x": {"field": "s", "type": "quantitative", "title": null, "scale": {"domain": [1960, 2010], "nice": false, "zero": false}, "axis": {"values": [1960, 1970, 1980, 1990, 2000, 2010], "format": "d", "labelPadding": 10.5}},
    "x2": {"field": "e"},
    "y": {"datum": 55, "type": "quantitative", "title": null, "scale": {"domain": [-50, 55], "nice": false, "zero": false}, "axis": {"values": [-50, -25, 0, 25, 50], "labelPadding": 6, "minExtent": 50, "maxExtent": 50}},
    "y2": {"datum": -50.5}
   }},
  {"data": {"name": "R"}, "mark": {"type": "rule", "color": "#111", "strokeWidth": 1}, "encoding": {"x": {"field": "s", "type": "quantitative", "title": null}}},
  {"data": {"name": "R"}, "mark": {"type": "rule", "color": "#111", "strokeWidth": 1}, "encoding": {"x": {"field": "e", "type": "quantitative", "title": null}}},
  {"data": {"name": "A"}, "mark": {"type": "area", "color": "#adadad", "opacity": 1}, "encoding": {"x": {"field": "t", "type": "quantitative", "title": null}, "y": {"field": "L", "type": "quantitative", "title": null}, "y2": {"field": "H"}}},
  {"data": {"name": "A"}, "mark": {"type": "line", "color": "#000", "strokeWidth": 4.5, "strokeJoin": "round"}, "encoding": {"x": {"field": "t", "type": "quantitative", "title": null}, "y": {"field": "M", "type": "quantitative", "title": null}}},
  {"data": {"values": [{}]}, "mark": {"type": "rule", "color": "#0000ff", "strokeWidth": 1.5}, "encoding": {"y": {"datum": 0, "type": "quantitative"}}}
 ]
},
{
 "width": 424, "height": 348,
 "title": {"text": "(d) Labor wedge, AR(1) labor disutility shock"},
 "layer": [
  {"data": {"name": "R"}, "mark": {"type": "rect", "color": "#e5e5e5"},
   "encoding": {
    "x": {"field": "s", "type": "quantitative", "title": null, "scale": {"domain": [1960, 2010], "nice": false, "zero": false}, "axis": {"values": [1960, 1970, 1980, 1990, 2000, 2010], "format": "d", "labelPadding": 10.5}},
    "x2": {"field": "e"},
    "y": {"datum": 55, "type": "quantitative", "title": null, "scale": {"domain": [-50, 55], "nice": false, "zero": false}, "axis": {"values": [-50, -25, 0, 25, 50], "labelPadding": 6, "minExtent": 50, "maxExtent": 50}},
    "y2": {"datum": -50.5}
   }},
  {"data": {"name": "R"}, "mark": {"type": "rule", "color": "#111", "strokeWidth": 1}, "encoding": {"x": {"field": "s", "type": "quantitative", "title": null}}},
  {"data": {"name": "R"}, "mark": {"type": "rule", "color": "#111", "strokeWidth": 1}, "encoding": {"x": {"field": "e", "type": "quantitative", "title": null}}},
  {"data": {"name": "B"}, "mark": {"type": "area", "color": "#adadad", "opacity": 1}, "encoding": {"x": {"field": "t", "type": "quantitative", "title": null}, "y": {"field": "L", "type": "quantitative", "title": null}, "y2": {"field": "H"}}},
  {"data": {"name": "B"}, "mark": {"type": "line", "color": "#000", "strokeWidth": 4.5, "strokeJoin": "round"}, "encoding": {"x": {"field": "t", "type": "quantitative", "title": null}, "y": {"field": "M", "type": "quantitative", "title": null}}},
  {"data": {"values": [{}]}, "mark": {"type": "rule", "color": "#0000ff", "strokeWidth": 1.5}, "encoding": {"y": {"datum": 0, "type": "quantitative"}}}
 ]
}
]
}
